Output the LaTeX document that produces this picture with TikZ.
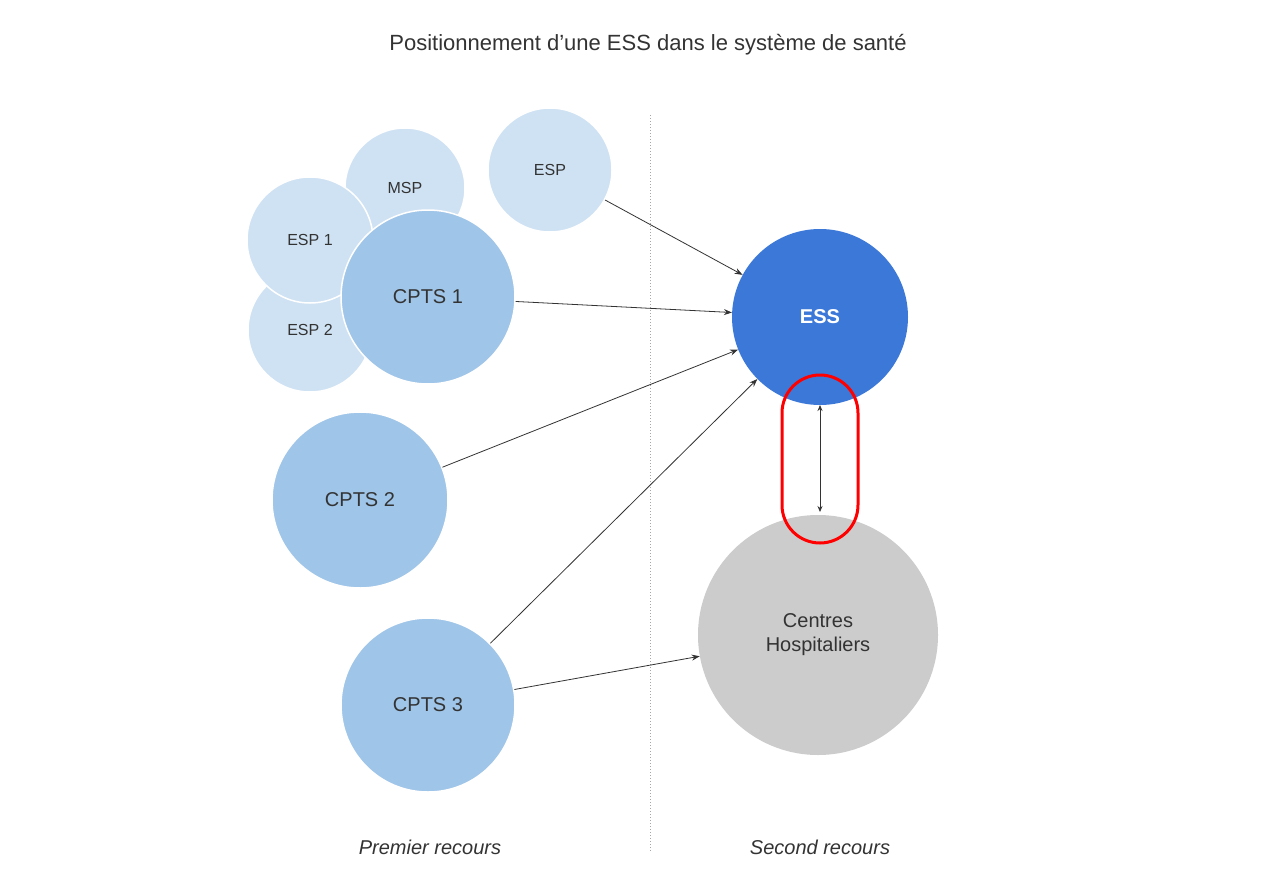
\documentclass[tikz,border=0pt]{standalone}
\usepackage{fontspec}
\setmainfont{Liberation Sans}
\usetikzlibrary{arrows.meta}
\definecolor{light}{HTML}{CFE2F3}
\definecolor{mid}{HTML}{9FC5E8}
\definecolor{essb}{HTML}{3C78D8}
\definecolor{grayc}{HTML}{CCCCCC}
\definecolor{txt}{HTML}{333333}
\begin{document}
\begin{tikzpicture}[x=1pt,y=-1pt,
  circ/.style={circle,inner sep=0pt,text=txt,align=center},
  small/.style={circ,fill=light,draw=white,line width=1.5pt,font=\fontsize{16}{18}\selectfont},
  big/.style={circ,fill=mid,draw=white,line width=1.5pt,font=\fontsize{20}{24}\selectfont},
  arr/.style={-{Stealth[length=8pt,width=6pt]},draw=txt,line width=0.8pt}]
\useasboundingbox[fill=white] (0,0) rectangle (1280,878);
\node (title) at (648,45) {\fontsize{22}{26}\selectfont\color{txt}Positionnement d’une ESS dans le système de santé};
\draw[gray!70,dotted,line width=1pt] (650,115) -- (650,852);
\node[small,minimum size=120pt] (msp) at (405,188) {MSP};
\node[small,minimum size=124pt] (esp) at (550,170) {ESP};
\node[small,minimum size=124pt] (esp2) at (310,330) {ESP 2};
\node[small,minimum size=126pt] (esp1) at (310,240) {ESP 1};
\node[big,minimum size=174pt] (c1) at (428,297) {CPTS 1};
\node[big,minimum size=176pt] (c2) at (360,500) {CPTS 2};
\node[big,minimum size=174pt] (c3) at (428,705) {CPTS 3};
\node[circ,fill=essb,minimum size=176pt,text=white,font=\bfseries\fontsize{20}{24}\selectfont] (ess) at (820,317) {ESS};
\node[circ,fill=grayc,minimum size=240pt,font=\fontsize{20}{24}\selectfont] (ch) at (818,635) {Centres\\Hospitaliers};
\draw[arr] (esp) -- (ess);
\draw[arr] (c1) -- (ess);
\draw[arr] (c2) -- (ess);
\draw[arr] (c3) -- (ess);
\draw[arr] (c3) -- (ch);
\coordinate (da) at (820,405);
\coordinate (db) at (820,512);
\draw[{Stealth[length=6pt,width=5pt]}-{Stealth[length=6pt,width=5pt]},draw=txt,line width=0.8pt] (da) -- (db);
\node[draw=red,line width=3pt,rounded corners=38pt,minimum width=76pt,minimum height=168pt] (hl) at (820,459) {};
\node[font=\itshape\fontsize{20}{24}\selectfont,text=txt] (pr) at (430,847) {Premier recours};
\node[font=\itshape\fontsize{20}{24}\selectfont,text=txt] (sr) at (820,847) {Second recours};
\end{tikzpicture}
\end{document}
